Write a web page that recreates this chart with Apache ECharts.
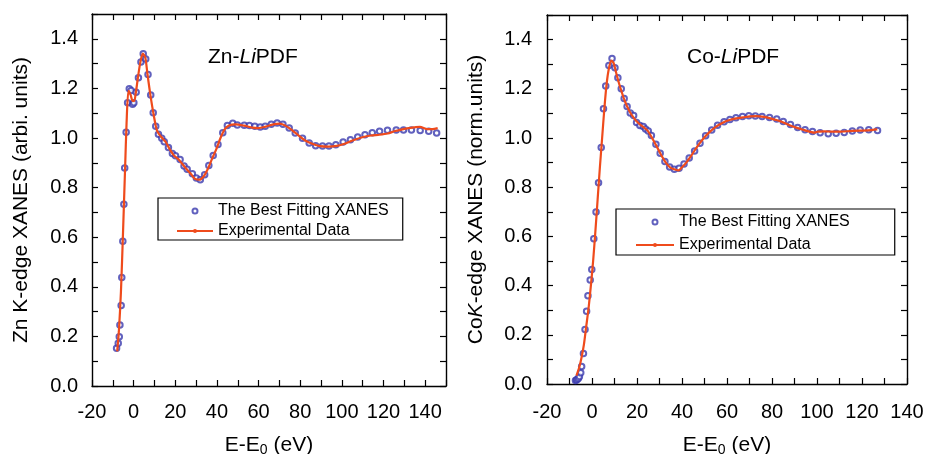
<!DOCTYPE html>
<html>
<head>
<meta charset="utf-8">
<title>Zn / Co K-edge XANES</title>
<script src="https://cdn.jsdelivr.net/npm/echarts@6/dist/echarts.min.js"></script>
<style>
  html, body { margin: 0; padding: 0; background: #fff; }
  #main { width: 927px; height: 454px; }
</style>
</head>
<body>
<div id="main"></div>
<script>
// Zn-LiPDF : the best fitting XANES (open circles)
var znFitE = [-8.2, -7.4, -6.9, -6.6, -6.0, -5.7, -5.2, -4.7, -4.3, -3.6, -2.9, -2.1, -1.2, -0.5, 0.1, 1.2, 2.3, 3.5, 4.6, 5.8,
  6.9, 8.2, 9.4, 10.6, 11.9, 13.5, 14.7, 16.7, 18.6, 20.1, 22.3, 24.2, 25.7, 28.2, 30.1, 32.0, 34.1, 36.1, 38.2, 40.5,
  42.8, 45.0, 47.6, 49.8, 53.1, 55.6, 58.2, 60.8, 63.2, 66.1, 68.9, 71.7, 74.7, 77.6, 81.1, 84.3, 87.4, 90.7, 93.8, 97.1,
  100.6, 104.1, 107.6, 111.1, 114.6, 118.1, 121.9, 126.1, 129.6, 133.4, 137.6, 141.7, 145.5]
var znFitV = [0.152, 0.172, 0.199, 0.246, 0.325, 0.438, 0.584, 0.733, 0.879, 1.023, 1.142, 1.199, 1.192, 1.136, 1.142, 1.184, 1.243, 1.306, 1.340, 1.319,
  1.256, 1.173, 1.102, 1.047, 1.015, 0.999, 0.985, 0.962, 0.937, 0.928, 0.913, 0.887, 0.874, 0.856, 0.839, 0.832, 0.852, 0.889, 0.929, 0.974,
  1.021, 1.050, 1.059, 1.052, 1.051, 1.050, 1.047, 1.044, 1.047, 1.055, 1.060, 1.055, 1.040, 1.020, 0.999, 0.980, 0.969, 0.968, 0.968, 0.973,
  0.984, 0.993, 1.004, 1.013, 1.021, 1.027, 1.031, 1.032, 1.032, 1.032, 1.030, 1.027, 1.020]

// Zn-LiPDF : experimental data (line)
var znExpE = [-7.9, -7.1, -6.1, -5.1, -4.1, -3.4, -2.5, -1.5, -0.5, 0.3, 1.0, 2.0, 3.1, 4.4, 5.6, 6.6, 8.1, 9.7, 11.2, 13.2,
  15.3, 17.3, 19.3, 21.4, 23.4, 25.4, 27.5, 29.5, 31.5, 33.6, 35.6, 37.6, 39.7, 41.7, 43.7, 45.8, 48.8, 52.9, 57.0, 60.0,
  63.0, 67.1, 70.2, 73.2, 76.3, 79.3, 82.4, 86.4, 89.5, 93.6, 97.6, 101.7, 105.8, 109.8, 113.9, 118.0, 122.0, 125.5, 128.5, 132.0,
  135.0, 137.5, 141.0, 143.5, 146.0]
var znExpV = [0.14, 0.22, 0.38, 0.62, 0.88, 1.06, 1.19, 1.175, 1.15, 1.15, 1.18, 1.24, 1.30, 1.34, 1.325, 1.26, 1.17, 1.09, 1.03, 1.005,
  0.985, 0.955, 0.93, 0.915, 0.895, 0.875, 0.855, 0.835, 0.832, 0.845, 0.875, 0.915, 0.955, 1.0, 1.035, 1.05, 1.055, 1.05, 1.042, 1.04,
  1.045, 1.055, 1.058, 1.048, 1.03, 1.01, 0.99, 0.975, 0.967, 0.965, 0.968, 0.978, 0.992, 1.003, 1.01, 1.013, 1.018, 1.028, 1.034, 1.04,
  1.043, 1.045, 1.036, 1.036, 1.04]

// Co-LiPDF : the best fitting XANES (open circles)
var coFitE = [-7.35, -6.9, -6.5, -6.0, -5.6, -5.0, -4.6, -3.8, -3.1, -2.4, -1.8, -0.8, -0.1, 0.8, 1.8, 2.9, 4.1, 5.1, 6.1, 7.5,
  8.9, 10.2, 11.5, 13.0, 14.3, 15.6, 17.0, 18.5, 19.8, 21.3, 22.8, 23.8, 25.0, 26.4, 28.4, 30.3, 32.4, 34.5, 36.6, 38.7,
  40.9, 43.2, 45.6, 48.0, 50.5, 53.2, 55.8, 58.7, 61.3, 64.0, 66.9, 69.7, 72.6, 75.6, 78.9, 82.1, 85.0, 88.2, 91.4, 94.7,
  98.0, 101.4, 105.0, 108.5, 112.1, 115.7, 119.2, 123.0, 126.9]
var coFitV = [0.014, 0.016, 0.019, 0.023, 0.030, 0.046, 0.071, 0.124, 0.222, 0.296, 0.359, 0.423, 0.465, 0.590, 0.699, 0.818, 0.961, 1.119, 1.211, 1.295,
  1.323, 1.286, 1.245, 1.200, 1.161, 1.128, 1.102, 1.091, 1.063, 1.051, 1.047, 1.037, 1.028, 1.010, 0.975, 0.938, 0.904, 0.882, 0.873, 0.877,
  0.894, 0.919, 0.947, 0.979, 1.009, 1.033, 1.052, 1.066, 1.075, 1.082, 1.087, 1.090, 1.089, 1.087, 1.083, 1.077, 1.067, 1.055, 1.043, 1.034,
  1.026, 1.021, 1.017, 1.019, 1.022, 1.028, 1.033, 1.034, 1.030]

// Co-LiPDF : experimental data (line)
var coExpE = [-6.9, -5.6, -4.6, -3.6, -2.55, -1.5, -0.5, 0.5, 1.5, 2.5, 3.5, 4.5, 5.5, 6.5, 7.55, 8.6, 9.6, 10.6, 11.6, 13.1,
  14.6, 16.6, 18.7, 20.7, 22.7, 24.7, 26.7, 28.8, 30.8, 32.8, 34.8, 36.9, 38.4, 39.9, 41.9, 43.9, 46.0, 48.0, 50.0, 52.0,
  55.0, 58.1, 61.1, 64.1, 67.2, 70.2, 73.2, 76.3, 79.3, 82.3, 85.3, 88.4, 91.4, 94.4, 97.5, 99.0, 100.5, 103.5, 106.6, 110.6,
  114.7, 118.7, 122.7, 126.8]
var coExpV = [0.034, 0.07, 0.11, 0.16, 0.235, 0.31, 0.40, 0.50, 0.62, 0.75, 0.88, 1.0, 1.12, 1.22, 1.285, 1.315, 1.305, 1.27, 1.235, 1.19,
  1.15, 1.11, 1.08, 1.06, 1.045, 1.03, 1.0, 0.965, 0.93, 0.90, 0.88, 0.872, 0.868, 0.88, 0.90, 0.925, 0.955, 0.98, 1.003, 1.022,
  1.045, 1.062, 1.073, 1.08, 1.084, 1.088, 1.089, 1.086, 1.08, 1.072, 1.062, 1.05, 1.04, 1.032, 1.024, 1.022, 1.026, 1.027, 1.026, 1.026,
  1.028, 1.03, 1.031, 1.035]

var seriesNames = ['The Best Fitting XANES', 'Experimental Data']

var FONT = 'Liberation Sans, Arial, sans-serif'
var FIT_COLOR = '#3a3aae'
var EXP_COLOR = '#ef4b1c'

function zip (xs, ys) {
  return xs.map(function (x, i) { return [x, ys[i]] })
}

// x axis labels every 20, ticks every 10
function xLabel (v) {
  return (v % 20 === 0 && v <= 140) ? String(v) : ''
}

// y axis labels every 0.2, ticks every 0.1
function yLabel (v) {
  var k = Math.round(v * 10)
  return (k % 2 === 0 && k <= 14) ? (k / 10).toFixed(1) : ''
}

var tick = { inside: true, length: 6, lineStyle: { color: '#000', width: 1.2 } }
var line = { onZero: false, lineStyle: { color: '#000', width: 1.4 } }

function xAxes (grid, max, margin, gap) {
  return [{
    type: 'value', gridIndex: grid, position: 'bottom', min: -20, max: max, interval: 10,
    axisLine: line, axisTick: tick, splitLine: { show: false },
    axisLabel: { formatter: xLabel, margin: margin, fontSize: 20, color: '#000', fontFamily: FONT },
    name: '{n|E-E}{s|0}{n| (eV)}', nameLocation: 'middle', nameGap: gap,
    nameTextStyle: {
      rich: {
        n: { fontSize: 21, lineHeight: 24, color: '#000', fontFamily: FONT },
        s: { fontSize: 14, lineHeight: 14, verticalAlign: 'bottom', padding: [10, 0, 0, 0], color: '#000', fontFamily: FONT }
      }
    }
  }, {
    type: 'value', gridIndex: grid, position: 'top', min: -20, max: max, interval: 10,
    axisLine: line, axisTick: tick, splitLine: { show: false }, axisLabel: { show: false }
  }]
}

function yAxes (grid, margin, name, gap) {
  return [{
    type: 'value', gridIndex: grid, position: 'left', min: 0, max: 1.5, interval: 0.1,
    axisLine: line, axisTick: tick, splitLine: { show: false },
    axisLabel: { formatter: yLabel, margin: margin, fontSize: 20, color: '#000', fontFamily: FONT },
    name: name, nameLocation: 'middle', nameGap: gap,
    nameTextStyle: {
      rich: {
        n: { fontSize: 21, color: '#000', fontFamily: FONT },
        i: { fontSize: 21, fontStyle: 'italic', color: '#000', fontFamily: FONT }
      }
    }
  }, {
    type: 'value', gridIndex: grid, position: 'right', min: 0, max: 1.5, interval: 0.1,
    axisLine: line, axisTick: tick, splitLine: { show: false }, axisLabel: { show: false }
  }]
}

function fitSeries (axis, data) {
  return {
    name: seriesNames[0], type: 'scatter', xAxisIndex: axis, yAxisIndex: axis,
    data: data, symbol: 'emptyCircle', symbolSize: 5.5,
    itemStyle: { color: FIT_COLOR, borderColor: FIT_COLOR, borderWidth: 1 },
    z: 2
  }
}

function expSeries (axis, data) {
  return {
    name: seriesNames[1], type: 'line', xAxisIndex: axis, yAxisIndex: axis,
    data: data, symbol: 'none', smooth: 0.25,
    lineStyle: { color: EXP_COLOR, width: 2.2 }, itemStyle: { color: EXP_COLOR },
    z: 3
  }
}

function legendBox (left, top, itemWidth, gap, padding) {
  return {
    orient: 'vertical', left: left, top: top, data: seriesNames, selectedMode: false,
    itemWidth: itemWidth, itemHeight: 5, itemGap: gap, padding: padding,
    borderColor: '#000', borderWidth: 1.2, backgroundColor: '#fff',
    textStyle: { fontSize: 16, color: '#000', fontFamily: FONT }
  }
}

var titleRich = {
  n: { fontSize: 21, color: '#000', fontFamily: FONT, fontWeight: 'normal' },
  i: { fontSize: 21, color: '#000', fontFamily: FONT, fontStyle: 'italic', fontWeight: 'normal' }
}

var myChart = echarts.init(document.getElementById('main'))

var option = {
  animation: false,
  backgroundColor: '#fff',
  title: [
    { text: '{n|Zn-}{i|Li}{n|PDF}', left: 208, top: 47, padding: 0, textStyle: { rich: titleRich } },
    { text: '{n|Co-}{i|Li}{n|PDF}', left: 687, top: 47, padding: 0, textStyle: { rich: titleRich } }
  ],
  legend: [
    legendBox(158, 198, 36, 4, [5, 14, 1, 18]),
    legendBox(616, 209, 38, 7, [5, 45, 2, 19])
  ],
  // fixed plot boxes; labels and names may run to the page edge
  grid: [
    { left: 92, right: 481, top: 14, bottom: 68, outerBoundsMode: 'none', containLabel: false },
    { left: 547, right: 20, top: 15, bottom: 70, outerBoundsMode: 'none', containLabel: false }
  ],
  xAxis: xAxes(0, 150, 16, 47).concat(xAxes(1, 140, 18, 49)),
  yAxis: yAxes(0, 14, '{n|Zn K-edge XANES (arbi. units)}', 60)
    .concat(yAxes(1, 15, '{n|Co}{i|K}{n|-edge XANES (norm.units)}', 60)),
  series: [
    fitSeries(0, zip(znFitE, znFitV)),
    expSeries(0, zip(znExpE, znExpV)),
    fitSeries(2, zip(coFitE, coFitV)),
    expSeries(2, zip(coExpE, coExpV))
  ]
}

myChart.setOption(option)
</script>
</body>
</html>
